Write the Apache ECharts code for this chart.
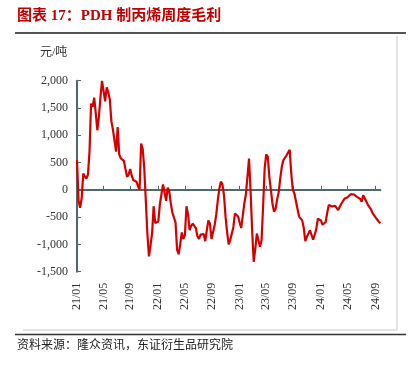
<!DOCTYPE html>
<html>
<head>
<meta charset="utf-8">
<script src="https://cdn.jsdelivr.net/npm/echarts@6/dist/echarts.min.js"></script>
<style>
  html, body { margin: 0; padding: 0; background: #fff; }
  #chart { width: 419px; height: 366px; }
</style>
</head>
<body>
<div id="chart"></div>
<script>
// weekly PDH margin, yuan/ton, first week 2021-01-08
var startDate = Date.UTC(2021, 0, 8);
var margin = [
  543, -200, -330, -150, 300, 245, 207, 280, 700, 1580,
  1520, 1690, 1400, 1092, 1336, 1700, 1995, 1980, 1620, 1880,
  1790, 1650, 1250, 1100, 900, 700, 1150, 650, 575, 600,
  530, 380, 240, 280, 380, 260, 180, 200, 150, 70,
  0, 848, 750, 400, -200, -800, -1220, -1020, -800, -300,
  -610, -616, -580, -260, -80, 100, 90, -200, 40, -30,
  -250, -420, -450, -600, -1100, -1180, -1000, -780, -900, -830,
  -300, -450, -740, -660, -620, -640, -700, -850, -900, -820,
  -850, -810, -940, -740, -560, -620, -900, -921, -650, -460,
  -200, 20, 150, 100, -100, -500, -780, -1000, -921, -900,
  -680, -433, -433, -490, -600, -700, -708, -250, -80, 240,
  573, -30, -750, -1318, -1080, -800, -780, -1043, -930, -300,
  400, 650, 610, 230, 0, -260, -400, -350, -170, -40,
  220, 430, 545, 580, 634, 665, 735, 300, 0, -67,
  -80, -350, -490, -470, -560, -700, -940, -860, -830, -740,
  -710, -915, -890, -720, -530, -495, -560, -640, -647, -590,
  -420, -275, -265, -305, -293, -293, -311, -370, -342, -255,
  -225, -165, -185, -135, -150, -80, -67, -85, -110, -128,
  -130, -165, -220, -100, -128, -215, -275, -305, -360, -425,
  -455, -510, -545, -585, -612
];
var labelMonths = [1, 5, 9];
var yTicks = { min: -1500, max: 2000, step: 500 };

var weeks = [];
var months = [];
for (var i = 0; i < margin.length; i++) {
  var d = new Date(startDate + i * 7 * 86400000);
  var yy = String(d.getUTCFullYear()).slice(2);
  var mm = d.getUTCMonth() + 1;
  months.push(mm);
  weeks.push(yy + '/' + (mm < 10 ? '0' + mm : mm));
}
function isMark(idx) {
  if (idx === 0) return true;
  return months[idx] !== months[idx - 1] && labelMonths.indexOf(months[idx]) >= 0;
}
function thousands(v) {
  return String(v).replace(/\B(?=(\d{3})+(?!\d))/g, ',');
}

var axisColor = '#4e6a68';
var serif = "'Liberation Serif', 'DejaVu Serif', serif";
var cjk = "'Liberation Serif', 'Noto Sans CJK SC', sans-serif";

var chart = echarts.init(document.getElementById('chart'));
var option = {
  animation: false,
  grid: { left: 77, right: 38.6, top: 80.7, bottom: 94.3 },
  xAxis: [
    {
      type: 'category',
      data: weeks,
      boundaryGap: false,
      axisLine: { onZero: true, lineStyle: { color: axisColor, width: 2 } },
      axisTick: { inside: true, length: 4, interval: isMark, lineStyle: { color: axisColor, width: 1 } },
      axisLabel: { show: false },
      splitLine: { show: false }
    },
    {
      type: 'category',
      data: weeks,
      boundaryGap: false,
      position: 'bottom',
      axisLine: { show: false, onZero: false },
      axisTick: { show: false },
      axisLabel: {
        interval: isMark,
        rotate: 90,
        margin: 11,
        color: '#333',
        fontSize: 12,
        fontFamily: serif
      },
      splitLine: { show: false }
    }
  ],
  yAxis: {
    type: 'value',
    min: yTicks.min,
    max: yTicks.max,
    interval: yTicks.step,
    axisLine: { show: true, lineStyle: { color: axisColor, width: 2 } },
    axisTick: { show: true, inside: true, length: 4, lineStyle: { color: axisColor, width: 1 } },
    axisLabel: {
      margin: 9,
      color: '#333',
      fontSize: 12,
      fontFamily: serif,
      formatter: thousands
    },
    splitLine: { show: false }
  },
  series: [
    {
      type: 'line',
      xAxisIndex: 0,
      data: margin,
      symbol: 'none',
      lineStyle: { color: '#d40000', width: 2.2 },
      z: 1
    }
  ],
  graphic: [
    {
      type: 'text', left: 17, top: 9,
      style: { text: '图表 17：PDH 制丙烯周度毛利', fill: '#c00000', font: 'bold 15px ' + cjk }
    },
    {
      type: 'line', shape: { x1: 15, y1: 33, x2: 406, y2: 33 },
      style: { stroke: '#555', lineWidth: 2 }
    },
    {
      type: 'line', shape: { x1: 397, y1: 36, x2: 397, y2: 330 },
      style: { stroke: '#c8c8c8', lineWidth: 1 }
    },
    {
      type: 'line', shape: { x1: 23, y1: 330, x2: 397, y2: 330 },
      style: { stroke: '#c8c8c8', lineWidth: 1 }
    },
    {
      type: 'line', shape: { x1: 15, y1: 334.5, x2: 406, y2: 334.5 },
      style: { stroke: '#333', lineWidth: 1.5 }
    },
    {
      type: 'text', left: 40, top: 47,
      style: { text: '元/吨', fill: '#333', font: '12px ' + cjk }
    },
    {
      type: 'text', left: 17, top: 340,
      style: { text: '资料来源：隆众资讯，东证衍生品研究院', fill: '#222', font: '12px ' + cjk }
    }
  ]
};
chart.setOption(option);
</script>
</body>
</html>
